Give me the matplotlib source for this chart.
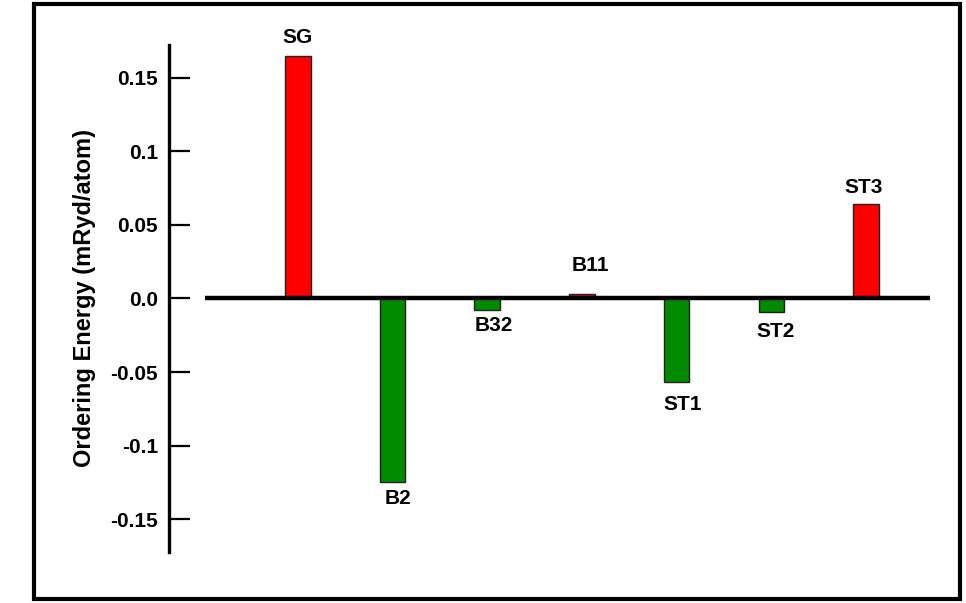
import matplotlib
matplotlib.use("Agg")
import matplotlib.pyplot as plt
from matplotlib.patches import Rectangle

# ordering energies (mRyd/atom)
structures = ["SG", "B2", "B32", "B11", "ST1", "ST2", "ST3"]
energies = [0.1645, -0.1245, -0.0075, 0.003, -0.057, -0.0092, 0.064]
y_ticks = [0.15, 0.1, 0.05, 0.0, -0.05, -0.1, -0.15]
y_tick_labels = ["0.15", "0.1", "0.05", "0.0", "-0.05", "-0.1", "-0.15"]

# hand placement of the names relative to the bar ends (dx, gap) in points
label_offsets = [(0, 7), (4, 5), (5, 5), (6, 14), (4, 9), (3, 7), (-2, 5)]

plt.rcParams["font.family"] = ["Liberation Sans", "DejaVu Sans"]
plt.rcParams["font.weight"] = "bold"

RED = "#ff0000"
GREEN = "#008a00"

fig = plt.figure(figsize=(9.66, 6.03), dpi=100)
ax = fig.add_axes([0.175, 0.0846, 0.798, 0.8408])

x = list(range(len(structures)))
colors = [RED if e > 0 else GREEN for e in energies]
ax.bar(x, energies, width=0.27, color=colors, edgecolor="#222222",
       linewidth=1.0, zorder=2)

# baseline through zero
ax.hlines(0, -0.98, 6.67, color="black", linewidth=3.2, zorder=3)

# structure names just beyond the bar ends
for xi, e, name, (dx, gap) in zip(x, energies, structures, label_offsets):
    dy = gap if e > 0 else -gap
    ax.annotate(name, (xi, e), xytext=(dx, dy), textcoords="offset points",
                ha="center", va="bottom" if e > 0 else "top",
                fontsize=15, fontweight="bold")

ax.set_xlim(-1.36, 6.78)
ax.set_ylim(-0.1723, 0.1723)
ax.set_xticks([])
ax.set_yticks(y_ticks, y_tick_labels)
ax.tick_params(axis="y", direction="in", length=15, width=1.6, pad=8,
               labelsize=15)
for side in ["top", "right", "bottom"]:
    ax.spines[side].set_visible(False)
ax.spines["left"].set_linewidth(2.4)
ax.set_ylabel("Ordering Energy (mRyd/atom)", fontsize=17, fontweight="bold",
              labelpad=10)

# outer frame around the whole picture
fig.patches.append(Rectangle((34 / 966, 1 - 599 / 603), 926 / 966, 595 / 603,
                             transform=fig.transFigure, fill=False,
                             edgecolor="black", linewidth=3))

fig.savefig("out.png", dpi=100)
